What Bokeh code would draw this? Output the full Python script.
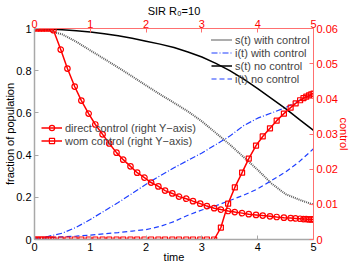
import math
from bokeh.plotting import figure
from bokeh.models import (Range1d, LinearAxis, FixedTicker, Legend, LegendItem,
                          CustomJSTickFormatter)
from bokeh.embed import file_html
from bokeh.resources import INLINE

title_text = "SIR R\u2080=10"
x_ticks = [0, 1, 2, 3, 4, 5]
y_ticks = [0, 0.2, 0.4, 0.6, 0.8, 1]
ctrl_ticks = [0, 0.01, 0.02, 0.03, 0.04, 0.05, 0.06]

# state trajectories (left axis)
t_state = [0, 0.25, 0.5, 0.75, 1.0, 1.25, 1.5, 1.75, 2.0, 2.25, 2.5,
           2.75, 3.0, 3.25, 3.5, 3.75, 4.0, 4.25, 4.5, 4.75, 5.0]
s_with = [1.0, 0.99, 0.972, 0.937, 0.896, 0.856, 0.815, 0.773, 0.73, 0.688, 0.648,
          0.607, 0.56, 0.505, 0.45, 0.39, 0.33, 0.265, 0.215, 0.188, 0.165]
i_with = [0.005, 0.015, 0.03, 0.058, 0.095, 0.135, 0.175, 0.218, 0.262, 0.302, 0.34,
          0.375, 0.41, 0.45, 0.49, 0.54, 0.575, 0.6, 0.625, 0.66, 0.69]
s_no = [1.0, 0.998, 0.994, 0.989, 0.983, 0.975, 0.966, 0.954, 0.94, 0.926, 0.91,
        0.889, 0.865, 0.835, 0.80, 0.76, 0.715, 0.668, 0.62, 0.568, 0.517]
i_no = [0.005, 0.008, 0.012, 0.016, 0.021, 0.027, 0.033, 0.04, 0.047, 0.062, 0.085,
        0.115, 0.14, 0.16, 0.185, 0.21, 0.24, 0.28, 0.32, 0.37, 0.43]

# control trajectories (right axis)
t_ctrl = [0, 0.05, 0.1, 0.15, 0.2, 0.25, 0.3, 0.34, 0.47, 0.59, 0.72, 0.84, 0.97,
          1.09, 1.22, 1.34, 1.47, 1.59, 1.72, 1.84, 1.97, 2.09, 2.22, 2.34, 2.47,
          2.59, 2.72, 2.84, 2.97, 3.09, 3.22, 3.34, 3.47, 3.59, 3.72, 3.84, 3.97,
          4.09, 4.22, 4.34, 4.47, 4.59, 4.68, 4.76, 4.82, 4.87, 4.92, 4.96, 5.0]
u_direct = [0.06, 0.06, 0.06, 0.06, 0.06, 0.06, 0.06, 0.0595, 0.054, 0.0486, 0.0435,
            0.0395, 0.0358, 0.0327, 0.0299, 0.0273, 0.0247, 0.0227, 0.0208, 0.019,
            0.0176, 0.0162, 0.0151, 0.0139, 0.0131, 0.0122, 0.0116, 0.0109, 0.0102,
            0.0095, 0.0089, 0.0085, 0.0081, 0.0078, 0.0075, 0.0072, 0.007, 0.0068,
            0.0066, 0.0064, 0.0062, 0.0061, 0.006, 0.0059, 0.0058, 0.0058, 0.0057,
            0.0057, 0.0057]
u_wom = [0, 0, 0, 0, 0, 0, 0, 0, 0, 0, 0, 0, 0, 0, 0, 0, 0, 0, 0, 0, 0, 0, 0, 0, 0,
         0, 0, 0, 0, 0, 0, 0.0034, 0.0102, 0.0148, 0.019, 0.023, 0.0267, 0.0293,
         0.0316, 0.0338, 0.0358, 0.0375, 0.0387, 0.0396, 0.0402, 0.0406, 0.041,
         0.0413, 0.0415]

FONT = "Liberation Sans"
RED = "#ff0000"
RED_AXIS = "#ff7070"
GRAY_AXIS = "#a8a8a8"

p = figure(width=354, height=266, output_backend="svg", toolbar_location=None,
           x_range=Range1d(0, 5), y_range=Range1d(0, 1),
           min_border_left=34, min_border_right=41, min_border_top=28,
           min_border_bottom=27)
p.extra_y_ranges = {"ctrl": Range1d(0, 0.06)}
p.outline_line_color = None
p.xgrid.visible = False
p.ygrid.visible = False
p.background_fill_color = "white"
p.border_fill_color = "white"

p.title.text = title_text
p.title.align = "center"
p.title.text_font = FONT
p.title.text_font_size = "11px"
p.title.text_font_style = "normal"
p.title.text_color = "black"
p.title.standoff = 0
p.title.offset = 0

fmt = CustomJSTickFormatter(code="return String(Math.round(tick*100)/100)")

def style_axis(ax, line_color, label_color):
    ax.major_tick_in = 4
    ax.major_tick_out = 0
    ax.minor_tick_in = 0
    ax.minor_tick_out = 0
    ax.axis_line_color = line_color
    ax.major_tick_line_color = line_color
    ax.major_label_text_color = label_color
    ax.major_label_text_font = FONT
    ax.major_label_text_font_size = "11px"
    ax.major_label_standoff = 3
    ax.axis_label_text_font = FONT
    ax.axis_label_text_font_size = "11px"
    ax.axis_label_text_font_style = "normal"
    ax.axis_label_standoff = -3
    ax.formatter = fmt

# bottom
xa = p.xaxis[0]
xa.ticker = FixedTicker(ticks=x_ticks)
style_axis(xa, GRAY_AXIS, "black")
xa.axis_line_width = 1.5
xa.axis_label = "time"
xa.axis_label_text_color = "black"

# left
ya = p.yaxis[0]
ya.ticker = FixedTicker(ticks=y_ticks)
style_axis(ya, GRAY_AXIS, "black")
ya.axis_line_width = 1.5
ya.axis_label = "fraction of population"
ya.axis_label_text_color = "black"

# top
top = LinearAxis(ticker=FixedTicker(ticks=x_ticks))
style_axis(top, RED_AXIS, RED)
top.major_label_standoff = 1
p.add_layout(top, "above")

# right
right = LinearAxis(y_range_name="ctrl", ticker=FixedTicker(ticks=ctrl_ticks))
style_axis(right, RED_AXIS, RED)
right.axis_label = "control"
right.axis_label_text_color = RED
p.add_layout(right, "right")

# state curves
r_sw = p.line(t_state, s_with, line_color="#5a5a5a", line_width=2, line_dash="1 1")
r_iw = p.line(t_state, i_with, line_color="#1f3fff", line_width=1.2, line_dash="6 2 1 2")
r_sn = p.line(t_state, s_no, line_color="black", line_width=1.5)
r_in = p.line(t_state, i_no, line_color="#1f3fff", line_width=1.2, line_dash="5 3")

# control curves
r_dl = p.line(t_ctrl, u_direct, y_range_name="ctrl", line_color=RED, line_width=1.5)
r_dm = p.scatter(t_ctrl, u_direct, y_range_name="ctrl", marker="circle", size=5.5,
                 line_color=RED, fill_alpha=0, line_width=1.2)
r_wl = p.line(t_ctrl, u_wom, y_range_name="ctrl", line_color=RED, line_width=1.5)
r_wm = p.scatter(t_ctrl, u_wom, y_range_name="ctrl", marker="square", size=5,
                 line_color=RED, fill_alpha=0, line_width=1.2)

def style_legend(lg):
    lg.background_fill_alpha = 0
    lg.border_line_alpha = 0
    lg.label_text_font = FONT
    lg.label_text_font_size = "11px"
    lg.glyph_width = 21
    lg.glyph_height = 13
    lg.label_height = 13
    lg.label_standoff = 3
    lg.spacing = 0
    lg.padding = 0
    lg.margin = 0

leg1 = Legend(items=[LegendItem(label="s(t) with control", renderers=[r_sw]),
                     LegendItem(label="i(t) with control", renderers=[r_iw]),
                     LegendItem(label="s(t) no control", renderers=[r_sn]),
                     LegendItem(label="i(t) no control", renderers=[r_in])],
              location=(177, 154))
style_legend(leg1)
p.add_layout(leg1, "center")

leg2 = Legend(items=[LegendItem(label="direct control (right Y\u2212axis)", renderers=[r_dl, r_dm]),
                     LegendItem(label="wom control (right Y\u2212axis)", renderers=[r_wl, r_wm])],
              location=(7, 92))
style_legend(leg2)
p.add_layout(leg2, "center")

open("out.html", "w").write(file_html(p, INLINE))
